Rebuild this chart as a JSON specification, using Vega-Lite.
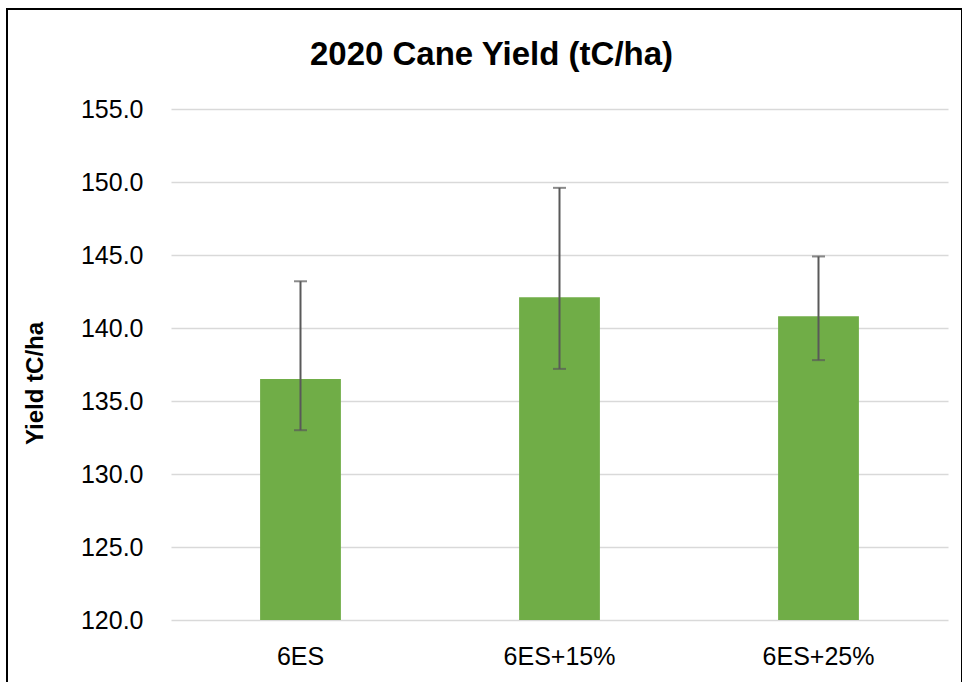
{
  "$schema": "https://vega.github.io/schema/vega-lite/v6.json",
  "autosize": {"type": "none"},
  "padding": {"left": 7, "top": 9, "right": 0, "bottom": 0},
  "width": 955,
  "height": 690,
  "background": "white",
  "title": {
    "text": "2020 Cane Yield (tC/ha)",
    "font": "Liberation Sans",
    "fontSize": 33,
    "fontWeight": "bold",
    "color": "#000000",
    "anchor": "middle",
    "frame": "group",
    "baseline": "alphabetic",
    "offset": 0,
    "dy": 89,
    "dx": 7
  },
  "config": {
    "view": {"stroke": "#000000", "strokeWidth": 2},
    "axis": {"labelFont": "Liberation Sans", "titleFont": "Liberation Sans"}
  },
  "data": {
    "values": [
      {"treatment": "6ES", "yield": 136.5, "lower": 133.0, "upper": 143.2},
      {"treatment": "6ES+15%", "yield": 142.1, "lower": 137.2, "upper": 149.6},
      {"treatment": "6ES+25%", "yield": 140.8, "lower": 137.8, "upper": 144.9}
    ]
  },
  "encoding": {
    "x": {
      "field": "treatment",
      "type": "nominal",
      "sort": null,
      "scale": {"range": [164, 941], "paddingInner": 0.688, "paddingOuter": 0.344},
      "axis": {
        "title": null,
        "orient": "bottom",
        "offset": -79,
        "domain": false,
        "ticks": false,
        "labelAngle": 0,
        "labelFontSize": 25,
        "labelColor": "#000000",
        "labelPadding": 24,
        "labelBaseline": "top",
        "grid": false
      }
    }
  },
  "layer": [
    {
      "mark": {"type": "bar", "color": "#70AD47"},
      "encoding": {
        "y": {
          "field": "yield",
          "type": "quantitative",
          "scale": {"domain": [120, 155], "range": [611, 100], "zero": false, "nice": false},
          "axis": {
            "title": "Yield tC/ha",
            "titleFontSize": 24,
            "titleFontWeight": "bold",
            "titleColor": "#000000",
            "titleAngle": -90,
            "titleX": -136,
            "titleY": 374,
            "titleAlign": "center",
            "titleBaseline": "middle",
            "orient": "left",
            "offset": -164,
            "values": [120, 125, 130, 135, 140, 145, 150, 155],
            "format": ".1f",
            "domain": false,
            "ticks": false,
            "labelFontSize": 25,
            "labelColor": "#000000",
            "labelPadding": 28,
            "grid": true,
            "gridColor": "#D9D9D9",
            "gridWidth": 1.5
          }
        },
        "y2": {"datum": 120}
      }
    },
    {
      "mark": {"type": "rule", "color": "#595959", "strokeWidth": 2},
      "encoding": {
        "y": {"field": "lower", "type": "quantitative"},
        "y2": {"field": "upper"}
      }
    },
    {
      "mark": {"type": "tick", "color": "#595959", "thickness": 2, "size": 13, "orient": "horizontal"},
      "encoding": {"y": {"field": "lower", "type": "quantitative"}}
    },
    {
      "mark": {"type": "tick", "color": "#595959", "thickness": 2, "size": 13, "orient": "horizontal"},
      "encoding": {"y": {"field": "upper", "type": "quantitative"}}
    }
  ]
}
